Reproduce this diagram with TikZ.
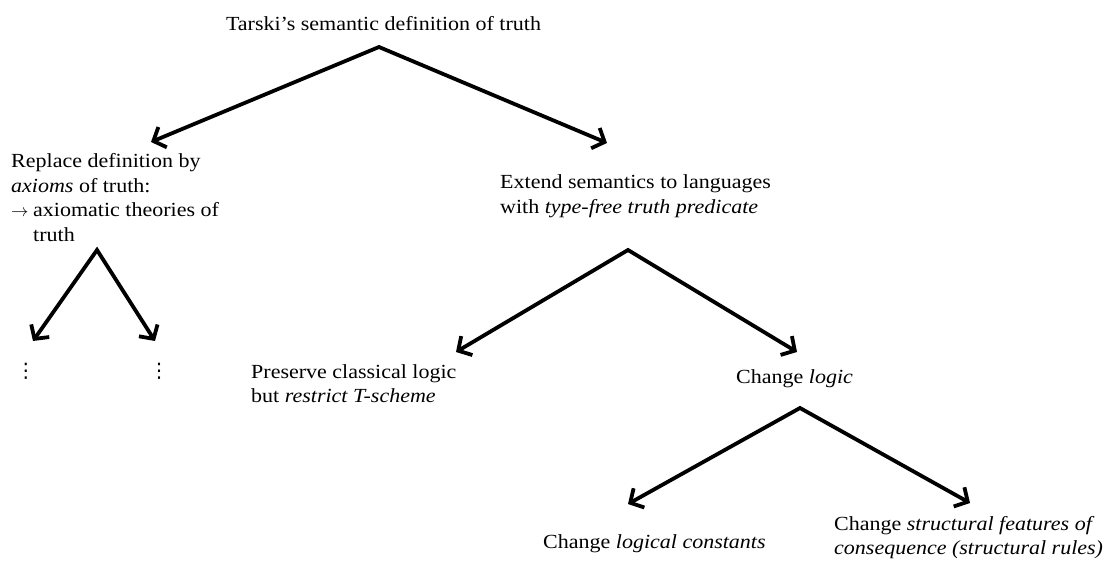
\documentclass[tikz,border=0pt]{standalone}
\usepackage{fontspec}
\setmainfont[FakeStretch=1.1]{Liberation Serif}
\newfontfamily\symfont{DejaVu Sans}
\usetikzlibrary{arrows.meta}
\begin{document}
\begin{tikzpicture}[x=1pt,y=-1pt,
  every node/.style={inner sep=0pt,font=\fontsize{20}{24.4}\selectfont},
  lbl/.style={anchor=base west},
  conn/.style={line width=3.8pt,line join=miter,
    {Straight Barb[length=10pt,width=22pt]}-{Straight Barb[length=10pt,width=22pt]}},
]
\useasboundingbox (0,0) rectangle (1103,561);

% texts
\node[anchor=base] (title) at (383.5,31) {Tarski’s semantic definition of truth};
\node[lbl] (rep) at (11,168) {\begin{tabular}[t]{@{}l@{}}Replace definition by\\ \textit{axioms} of truth:\\ \makebox[22pt][l]{\fontsize{16}{16}\selectfont$\rightarrow$}axiomatic theories of\\ \hspace*{22pt}truth\end{tabular}};
\node[lbl] (ext) at (500,189) {\begin{tabular}[t]{@{}l@{}}Extend semantics to languages\\ with \textit{type-free truth predicate}\end{tabular}};
\node (d1) at (26,371) {\symfont ⋮};
\node (d2) at (159,371) {\symfont ⋮};
\node[lbl] (pre) at (251,378) {\begin{tabular}[t]{@{}l@{}}Preserve classical logic\\ but \textit{restrict T-scheme}\end{tabular}};
\node[lbl] (chl) at (736,383) {Change \textit{logic}};
\node[lbl] (clc) at (543,548) {Change \textit{logical constants}};
\node[lbl] (csf) at (834,530) {\begin{tabular}[t]{@{}l@{}}Change \textit{structural features of}\\ \textit{consequence (structural rules)}\end{tabular}};

% connector points
\coordinate (a0) at (379,47);
\coordinate (a0l) at (151,142);
\coordinate (a0r) at (607,143);
\coordinate (a1) at (97,250);
\coordinate (a1l) at (33,341);
\coordinate (a1r) at (155,341);
\coordinate (a2) at (628,250);
\coordinate (a2l) at (456,352);
\coordinate (a2r) at (797,352);
\coordinate (a3) at (800,408);
\coordinate (a3l) at (628,504);
\coordinate (a3r) at (970,503);

\draw[conn] (a0l) -- (a0) -- (a0r);
\draw[conn] (a1l) -- (a1) -- (a1r);
\draw[conn] (a2l) -- (a2) -- (a2r);
\draw[conn] (a3l) -- (a3) -- (a3r);
\end{tikzpicture}
\end{document}
